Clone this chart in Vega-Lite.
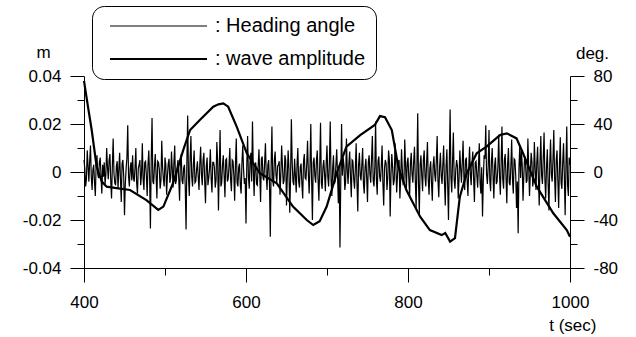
{
  "$schema": "https://vega.github.io/schema/vega-lite/v6.json",
  "width": 486,
  "height": 192,
  "autosize": {"type": "none"},
  "padding": {"left": 84, "top": 76, "right": 66, "bottom": 69},
  "background": "white",
  "config": {
    "font": "Liberation Sans",
    "view": {"stroke": null},
    "axis": {"domainColor": "black", "tickColor": "black", "labelColor": "black", "titleColor": "black", "grid": false, "labelFont": "Liberation Sans", "titleFont": "Liberation Sans", "labelFontSize": 17, "titleFontSize": 17, "titleFontWeight": "normal", "tickWidth": 1, "domainWidth": 1}
  },
  "datasets": {
    "heading": [
      {"t":400,"h":10},{"t":401,"h":3},{"t":402,"h":-12},{"t":403,"h":-6},{"t":404,"h":18},{"t":405,"h":5},{"t":406,"h":-8},{"t":407,"h":9},{"t":408,"h":22},{"t":409,"h":-4},{"t":410,"h":-15},{"t":411,"h":2},{"t":412,"h":6},{"t":413,"h":-9},{"t":414,"h":-20},{"t":415,"h":7},{"t":416,"h":14},{"t":417,"h":-2},{"t":418,"h":-5},{"t":419,"h":8},
      {"t":420,"h":12},{"t":421,"h":-3},{"t":422,"h":-18},{"t":423,"h":6},{"t":424,"h":-4},{"t":425,"h":8},{"t":426,"h":-10},{"t":427,"h":-2},{"t":428,"h":20},{"t":429,"h":4},{"t":430,"h":-6},{"t":431,"h":10},{"t":432,"h":15},{"t":433,"h":-7},{"t":434,"h":-22},{"t":435,"h":5},{"t":436,"h":28},{"t":437,"h":-1},{"t":438,"h":-9},{"t":439,"h":-11},
      {"t":440,"h":5},{"t":441,"h":9},{"t":442,"h":-14},{"t":443,"h":2},{"t":444,"h":16},{"t":445,"h":-6},{"t":446,"h":-25},{"t":447,"h":7},{"t":448,"h":10},{"t":449,"h":-3},{"t":450,"h":-36},{"t":451,"h":-10},{"t":452,"h":3},{"t":453,"h":12},{"t":454,"h":39},{"t":455,"h":-4},{"t":456,"h":-12},{"t":457,"h":3},{"t":458,"h":8},{"t":459,"h":-7},
      {"t":460,"h":14},{"t":461,"h":-5},{"t":462,"h":-8},{"t":463,"h":4},{"t":464,"h":20},{"t":465,"h":-9},{"t":466,"h":-18},{"t":467,"h":3},{"t":468,"h":6},{"t":469,"h":10},{"t":470,"h":-11},{"t":471,"h":-2},{"t":472,"h":24},{"t":473,"h":-6},{"t":474,"h":-15},{"t":475,"h":8},{"t":476,"h":9},{"t":477,"h":-3},{"t":478,"h":-20},{"t":479,"h":6},
      {"t":480,"h":18},{"t":481,"h":-4},{"t":482,"h":-47},{"t":483,"h":10},{"t":484,"h":45},{"t":485,"h":-8},{"t":486,"h":-10},{"t":487,"h":5},{"t":488,"h":15},{"t":489,"h":-3},{"t":490,"h":-22},{"t":491,"h":9},{"t":492,"h":8},{"t":493,"h":2},{"t":494,"h":-14},{"t":495,"h":-7},{"t":496,"h":26},{"t":497,"h":4},{"t":498,"h":-6},{"t":499,"h":-12},
      {"t":500,"h":12},{"t":501,"h":6},{"t":502,"h":-19},{"t":503,"h":-3},{"t":504,"h":7},{"t":505,"h":11},{"t":506,"h":-9},{"t":507,"h":-5},{"t":508,"h":17},{"t":509,"h":2},{"t":510,"h":-13},{"t":511,"h":8},{"t":512,"h":22},{"t":513,"h":-10},{"t":514,"h":-7},{"t":515,"h":4},{"t":516,"h":10},{"t":517,"h":-6},{"t":518,"h":-24},{"t":519,"h":9},
      {"t":520,"h":15},{"t":521,"h":-7},{"t":522,"h":-10},{"t":523,"h":3},{"t":524,"h":6},{"t":525,"h":-12},{"t":526,"h":-48},{"t":527,"h":8},{"t":528,"h":47},{"t":529,"h":-5},{"t":530,"h":-20},{"t":531,"h":11},{"t":532,"h":30},{"t":533,"h":-4},{"t":534,"h":-12},{"t":535,"h":6},{"t":536,"h":18},{"t":537,"h":-9},{"t":538,"h":-8},{"t":539,"h":2},
      {"t":540,"h":9},{"t":541,"h":-4},{"t":542,"h":-15},{"t":543,"h":7},{"t":544,"h":21},{"t":545,"h":-2},{"t":546,"h":-11},{"t":547,"h":10},{"t":548,"h":16},{"t":549,"h":-8},{"t":550,"h":-26},{"t":551,"h":5},{"t":552,"h":12},{"t":553,"h":-11},{"t":554,"h":-5},{"t":555,"h":3},{"t":556,"h":19},{"t":557,"h":-6},{"t":558,"h":-17},{"t":559,"h":8},
      {"t":560,"h":8},{"t":561,"h":4},{"t":562,"h":-13},{"t":563,"h":-7},{"t":564,"h":25},{"t":565,"h":9},{"t":566,"h":-32},{"t":567,"h":3},{"t":568,"h":35},{"t":569,"h":-12},{"t":570,"h":-9},{"t":571,"h":6},{"t":572,"h":14},{"t":573,"h":-3},{"t":574,"h":-21},{"t":575,"h":10},{"t":576,"h":11},{"t":577,"h":-8},{"t":578,"h":-6},{"t":579,"h":5},
      {"t":580,"h":20},{"t":581,"h":-6},{"t":582,"h":-16},{"t":583,"h":10},{"t":584,"h":9},{"t":585,"h":-3},{"t":586,"h":-24},{"t":587,"h":7},{"t":588,"h":28},{"t":589,"h":-9},{"t":590,"h":-12},{"t":591,"h":4},{"t":592,"h":7},{"t":593,"h":-11},{"t":594,"h":-18},{"t":595,"h":8},{"t":596,"h":22},{"t":597,"h":2},{"t":598,"h":-10},{"t":599,"h":-5},
      {"t":600,"h":-43},{"t":601,"h":7},{"t":602,"h":30},{"t":603,"h":-4},{"t":604,"h":-14},{"t":605,"h":9},{"t":606,"h":16},{"t":607,"h":-8},{"t":608,"h":42},{"t":609,"h":3},{"t":610,"h":-20},{"t":611,"h":6},{"t":612,"h":8},{"t":613,"h":-10},{"t":614,"h":-11},{"t":615,"h":5},{"t":616,"h":19},{"t":617,"h":-2},{"t":618,"h":-25},{"t":619,"h":11},
      {"t":620,"h":13},{"t":621,"h":-5},{"t":622,"h":-7},{"t":623,"h":8},{"t":624,"h":24},{"t":625,"h":-3},{"t":626,"h":-15},{"t":627,"h":6},{"t":628,"h":10},{"t":629,"h":-9},{"t":630,"h":-54},{"t":631,"h":4},{"t":632,"h":38},{"t":633,"h":-7},{"t":634,"h":-12},{"t":635,"h":10},{"t":636,"h":17},{"t":637,"h":-2},{"t":638,"h":-9},{"t":639,"h":5},
      {"t":640,"h":6},{"t":641,"h":9},{"t":642,"h":-19},{"t":643,"h":-2},{"t":644,"h":22},{"t":645,"h":5},{"t":646,"h":-10},{"t":647,"h":-7},{"t":648,"h":14},{"t":649,"h":10},{"t":650,"h":-28},{"t":651,"h":-4},{"t":652,"h":18},{"t":653,"h":3},{"t":654,"h":-34},{"t":655,"h":-6},{"t":656,"h":44},{"t":657,"h":8},{"t":658,"h":-8},{"t":659,"h":-11},
      {"t":660,"h":11},{"t":661,"h":-3},{"t":662,"h":-17},{"t":663,"h":6},{"t":664,"h":20},{"t":665,"h":-8},{"t":666,"h":-13},{"t":667,"h":4},{"t":668,"h":7},{"t":669,"h":-10},{"t":670,"h":-22},{"t":671,"h":9},{"t":672,"h":15},{"t":673,"h":-5},{"t":674,"h":-6},{"t":675,"h":7},{"t":676,"h":26},{"t":677,"h":-2},{"t":678,"h":-18},{"t":679,"h":5},
      {"t":680,"h":40},{"t":681,"h":-6},{"t":682,"h":-40},{"t":683,"h":8},{"t":684,"h":12},{"t":685,"h":-3},{"t":686,"h":-9},{"t":687,"h":10},{"t":688,"h":18},{"t":689,"h":-7},{"t":690,"h":-24},{"t":691,"h":5},{"t":692,"h":41},{"t":693,"h":-9},{"t":694,"h":-14},{"t":695,"h":4},{"t":696,"h":10},{"t":697,"h":-2},{"t":698,"h":-16},{"t":699,"h":7},
      {"t":700,"h":22},{"t":701,"h":-4},{"t":702,"h":-12},{"t":703,"h":9},{"t":704,"h":42},{"t":705,"h":-6},{"t":706,"h":-20},{"t":707,"h":3},{"t":708,"h":14},{"t":709,"h":-10},{"t":710,"h":-8},{"t":711,"h":6},{"t":712,"h":19},{"t":713,"h":-2},{"t":714,"h":-26},{"t":715,"h":5},{"t":716,"h":-63},{"t":717,"h":-8},{"t":718,"h":40},{"t":719,"h":-3},
      {"t":720,"h":12},{"t":721,"h":5},{"t":722,"h":-15},{"t":723,"h":-8},{"t":724,"h":28},{"t":725,"h":2},{"t":726,"h":-10},{"t":727,"h":7},{"t":728,"h":17},{"t":729,"h":-4},{"t":730,"h":-21},{"t":731,"h":10},{"t":732,"h":9},{"t":733,"h":-6},{"t":734,"h":-14},{"t":735,"h":3},{"t":736,"h":24},{"t":737,"h":-9},{"t":738,"h":-33},{"t":739,"h":6},
      {"t":740,"h":16},{"t":741,"h":-3},{"t":742,"h":-7},{"t":743,"h":6},{"t":744,"h":20},{"t":745,"h":-10},{"t":746,"h":-18},{"t":747,"h":4},{"t":748,"h":11},{"t":749,"h":-5},{"t":750,"h":-25},{"t":751,"h":8},{"t":752,"h":14},{"t":753,"h":-2},{"t":754,"h":-9},{"t":755,"h":11},{"t":756,"h":30},{"t":757,"h":-7},{"t":758,"h":-12},{"t":759,"h":3},
      {"t":760,"h":42},{"t":761,"h":-6},{"t":762,"h":-19},{"t":763,"h":9},{"t":764,"h":13},{"t":765,"h":-4},{"t":766,"h":-8},{"t":767,"h":5},{"t":768,"h":22},{"t":769,"h":-9},{"t":770,"h":-28},{"t":771,"h":3},{"t":772,"h":10},{"t":773,"h":7},{"t":774,"h":-15},{"t":775,"h":-5},{"t":776,"h":18},{"t":777,"h":10},{"t":778,"h":-37},{"t":779,"h":-2},
      {"t":780,"h":15},{"t":781,"h":4},{"t":782,"h":-11},{"t":783,"h":-7},{"t":784,"h":24},{"t":785,"h":6},{"t":786,"h":-17},{"t":787,"h":-3},{"t":788,"h":8},{"t":789,"h":10},{"t":790,"h":-22},{"t":791,"h":-5},{"t":792,"h":19},{"t":793,"h":2},{"t":794,"h":-10},{"t":795,"h":-9},{"t":796,"h":27},{"t":797,"h":5},{"t":798,"h":-14},{"t":799,"h":8},
      {"t":800,"h":12},{"t":801,"h":-5},{"t":802,"h":-20},{"t":803,"h":7},{"t":804,"h":16},{"t":805,"h":-2},{"t":806,"h":-9},{"t":807,"h":9},{"t":808,"h":21},{"t":809,"h":-6},{"t":810,"h":-30},{"t":811,"h":4},{"t":812,"h":49},{"t":813,"h":-10},{"t":814,"h":-35},{"t":815,"h":6},{"t":816,"h":14},{"t":817,"h":-3},{"t":818,"h":-16},{"t":819,"h":10},
      {"t":820,"h":18},{"t":821,"h":-4},{"t":822,"h":-12},{"t":823,"h":8},{"t":824,"h":25},{"t":825,"h":-6},{"t":826,"h":-19},{"t":827,"h":3},{"t":828,"h":9},{"t":829,"h":-9},{"t":830,"h":-24},{"t":831,"h":5},{"t":832,"h":13},{"t":833,"h":-2},{"t":834,"h":-8},{"t":835,"h":10},{"t":836,"h":30},{"t":837,"h":-7},{"t":838,"h":-21},{"t":839,"h":4},
      {"t":840,"h":16},{"t":841,"h":-3},{"t":842,"h":-10},{"t":843,"h":6},{"t":844,"h":22},{"t":845,"h":-8},{"t":846,"h":-28},{"t":847,"h":5},{"t":848,"h":19},{"t":849,"h":-11},{"t":850,"h":-40},{"t":851,"h":7},{"t":852,"h":52},{"t":853,"h":-4},{"t":854,"h":-17},{"t":855,"h":9},{"t":856,"h":33},{"t":857,"h":-6},{"t":858,"h":-14},{"t":859,"h":2},
      {"t":860,"h":10},{"t":861,"h":5},{"t":862,"h":-22},{"t":863,"h":-6},{"t":864,"h":18},{"t":865,"h":3},{"t":866,"h":-9},{"t":867,"h":8},{"t":868,"h":26},{"t":869,"h":-4},{"t":870,"h":-15},{"t":871,"h":10},{"t":872,"h":12},{"t":873,"h":-7},{"t":874,"h":-20},{"t":875,"h":4},{"t":876,"h":21},{"t":877,"h":-2},{"t":878,"h":-11},{"t":879,"h":7},
      {"t":880,"h":17},{"t":881,"h":-5},{"t":882,"h":-25},{"t":883,"h":8},{"t":884,"h":9},{"t":885,"h":-3},{"t":886,"h":-13},{"t":887,"h":6},{"t":888,"h":24},{"t":889,"h":-9},{"t":890,"h":-18},{"t":891,"h":4},{"t":892,"h":-37},{"t":893,"h":-6},{"t":894,"h":14},{"t":895,"h":11},{"t":896,"h":39},{"t":897,"h":-2},{"t":898,"h":-10},{"t":899,"h":5},
      {"t":900,"h":35},{"t":901,"h":-7},{"t":902,"h":-16},{"t":903,"h":9},{"t":904,"h":20},{"t":905,"h":-4},{"t":906,"h":-22},{"t":907,"h":6},{"t":908,"h":12},{"t":909,"h":-10},{"t":910,"h":-8},{"t":911,"h":5},{"t":912,"h":31},{"t":913,"h":-3},{"t":914,"h":-19},{"t":915,"h":8},{"t":916,"h":38},{"t":917,"h":-6},{"t":918,"h":-14},{"t":919,"h":10},
      {"t":920,"h":15},{"t":921,"h":-4},{"t":922,"h":-26},{"t":923,"h":7},{"t":924,"h":20},{"t":925,"h":-9},{"t":926,"h":-11},{"t":927,"h":5},{"t":928,"h":27},{"t":929,"h":-6},{"t":930,"h":-18},{"t":931,"h":11},{"t":932,"h":10},{"t":933,"h":-3},{"t":934,"h":-30},{"t":935,"h":-8},{"t":936,"h":-51},{"t":937,"h":4},{"t":938,"h":22},{"t":939,"h":-5},
      {"t":940,"h":18},{"t":941,"h":6},{"t":942,"h":-24},{"t":943,"h":-3},{"t":944,"h":13},{"t":945,"h":10},{"t":946,"h":-9},{"t":947,"h":-7},{"t":948,"h":28},{"t":949,"h":4},{"t":950,"h":-20},{"t":951,"h":-2},{"t":952,"h":16},{"t":953,"h":9},{"t":954,"h":-12},{"t":955,"h":-6},{"t":956,"h":25},{"t":957,"h":3},{"t":958,"h":-15},{"t":959,"h":8},
      {"t":960,"h":21},{"t":961,"h":-5},{"t":962,"h":-28},{"t":963,"h":9},{"t":964,"h":30},{"t":965,"h":-3},{"t":966,"h":-10},{"t":967,"h":12},{"t":968,"h":33},{"t":969,"h":-6},{"t":970,"h":-22},{"t":971,"h":4},{"t":972,"h":19},{"t":973,"h":-10},{"t":974,"h":-32},{"t":975,"h":7},{"t":976,"h":27},{"t":977,"h":-2},{"t":978,"h":-8},{"t":979,"h":11},
      {"t":980,"h":35},{"t":981,"h":-4},{"t":982,"h":-25},{"t":983,"h":10},{"t":984,"h":18},{"t":985,"h":-7},{"t":986,"h":-30},{"t":987,"h":6},{"t":988,"h":29},{"t":989,"h":-9},{"t":990,"h":-14},{"t":991,"h":8},{"t":992,"h":24},{"t":993,"h":-3},{"t":994,"h":-36},{"t":995,"h":5},{"t":996,"h":38},{"t":997,"h":-11},{"t":998,"h":-20},{"t":999,"h":12},
      {"t":1000,"h":6}
    ],
    "wave": [
      {"t":400,"m":0.038},{"t":405,"m":0.027},{"t":409.5,"m":0.0175},{"t":415.6,"m":0.0022},{"t":422,"m":-0.004},{"t":428,"m":-0.0061},{"t":440,"m":-0.0067},{"t":456.8,"m":-0.0075},{"t":477,"m":-0.0117},{"t":491.7,"m":-0.0158},{"t":498,"m":-0.0144},{"t":510,"m":-0.0046},{"t":522.6,"m":0.0092},{"t":531,"m":0.0175},{"t":543,"m":0.0217},{"t":559.6,"m":0.0272},{"t":566,"m":0.0282},{"t":572,"m":0.0286},{"t":578,"m":0.0272},{"t":588.5,"m":0.0189},{"t":601,"m":0.0078},{"t":617,"m":-0.0005},{"t":638,"m":-0.0047},{"t":658,"m":-0.0144},{"t":675,"m":-0.02},{"t":683,"m":-0.0221},{"t":691,"m":-0.0205},{"t":699.6,"m":-0.0144},{"t":712,"m":-0.0005},{"t":724,"m":0.0106},{"t":741,"m":0.0154},{"t":759,"m":0.0196},{"t":765.4,"m":0.0233},{"t":771.6,"m":0.0228},{"t":780,"m":0.0175},{"t":788,"m":0.0022},{"t":798,"m":-0.0075},{"t":815,"m":-0.0186},{"t":827,"m":-0.0242},{"t":841.6,"m":-0.0263},{"t":846,"m":-0.0254},{"t":852,"m":-0.029},{"t":858,"m":-0.0276},{"t":864,"m":-0.0103},{"t":872.5,"m":-0.0005},{"t":884.8,"m":0.0078},{"t":897,"m":0.0106},{"t":913.6,"m":0.0154},{"t":922,"m":0.0161},{"t":934,"m":0.014},{"t":942,"m":0.0078},{"t":959,"m":-0.0061},{"t":979.4,"m":-0.0172},{"t":996,"m":-0.0242},{"t":1000,"m":-0.027}
    ]
  },
  "layer": [
    {
      "data": {"name": "heading"},
      "mark": {"type": "line", "color": "black", "opacity": 0},
      "encoding": {
        "x": {"field": "t", "type": "quantitative", "scale": {"domain": [400, 1000], "nice": false, "zero": false},
          "axis": {"orient": "bottom", "values": [500, 700, 900], "labels": false, "domain": false, "tickSize": 7, "title": null}},
        "y": {"field": "h", "type": "quantitative", "scale": {"domain": [-80, 80], "nice": false},
          "axis": {"orient": "right", "values": [-60, -20, 20, 60], "labels": false, "domain": false, "tickSize": 7, "title": null}}
      }
    },
    {
      "data": {"name": "wave"},
      "mark": {"type": "line", "color": "black", "opacity": 0},
      "encoding": {
        "x": {"field": "t", "type": "quantitative", "axis": null},
        "y": {"field": "m", "type": "quantitative", "scale": {"domain": [-0.04, 0.04], "nice": false},
          "axis": {"orient": "left", "values": [-0.03, -0.01, 0.01, 0.03], "labels": false, "domain": false, "tickSize": 7, "title": null}}
      }
    },
    {
      "data": {"name": "heading"},
      "mark": {"type": "line", "color": "black", "interpolate": "linear"},
      "encoding": {
        "x": {"field": "t", "type": "quantitative",
          "axis": {"orient": "bottom", "title": "t (sec)", "values": [400, 600, 800, 1000], "labelExpr": "'' + datum.value", "tickSize": 14, "labelPadding": 12, "labelFlush": false,
            "titleAnchor": "end", "titleAlign": "right", "titleX": 512, "titleY": 62, "titleBaseline": "alphabetic"}},
        "y": {"field": "h", "type": "quantitative", "scale": {"domain": [-80, 80], "nice": false},
          "axis": {"orient": "right", "title": "deg.", "titleAngle": 0, "titleX": 22, "titleY": -18, "titleAlign": "center", "titleBaseline": "alphabetic",
            "values": [-80, -40, 0, 40, 80], "labelExpr": "'' + datum.value", "tickSize": 14, "labelPadding": 9}},
        "strokeWidth": {"datum": "Heading angle", "type": "nominal", "scale": {"domain": ["Heading angle", "wave amplitude"], "range": [1.2, 2.2]},
          "legend": {"orient": "none", "legendX": 8, "legendY": -70, "title": null, "symbolType": "M-0.25,0H11.875", "symbolSize": 256, "symbolStrokeColor": "black", "symbolFillColor": "transparent",
            "labelExpr": "': ' + datum.label", "labelFontSize": 20, "labelFont": "Liberation Sans", "labelColor": "black", "labelOffset": 93,
            "strokeColor": "black", "cornerRadius": 12, "padding": 10, "rowPadding": 13, "fillColor": "white"}}
      }
    },
    {
      "data": {"name": "wave"},
      "mark": {"type": "line", "color": "black", "interpolate": "linear"},
      "encoding": {
        "x": {"field": "t", "type": "quantitative", "axis": null},
        "y": {"field": "m", "type": "quantitative", "scale": {"domain": [-0.04, 0.04], "nice": false},
          "axis": {"orient": "left", "title": "m", "titleAngle": 0, "titleX": -41, "titleY": -19, "titleAlign": "center", "titleBaseline": "alphabetic",
            "values": [-0.04, -0.02, 0, 0.02, 0.04],
            "labelExpr": "round(datum.value*100) === 4 ? '0.04' : round(datum.value*100) === 2 ? '0.02' : round(datum.value*100) === 0 ? '0' : round(datum.value*100) === -2 ? '-0.02' : '-0.04'",
            "tickSize": 14, "labelPadding": 9}},
        "strokeWidth": {"datum": "wave amplitude", "type": "nominal", "scale": {"domain": ["Heading angle", "wave amplitude"], "range": [1.2, 2.2]},
          "legend": {"orient": "none", "legendX": 8, "legendY": -70, "title": null, "symbolType": "M-0.25,0H11.875", "symbolSize": 256, "symbolStrokeColor": "black", "symbolFillColor": "transparent",
            "labelExpr": "': ' + datum.label", "labelFontSize": 20, "labelFont": "Liberation Sans", "labelColor": "black", "labelOffset": 93,
            "strokeColor": "black", "cornerRadius": 12, "padding": 10, "rowPadding": 13, "fillColor": "white"}}
      }
    }
  ],
  "resolve": {"scale": {"y": "independent"}, "axis": {"x": "independent"}}
}
